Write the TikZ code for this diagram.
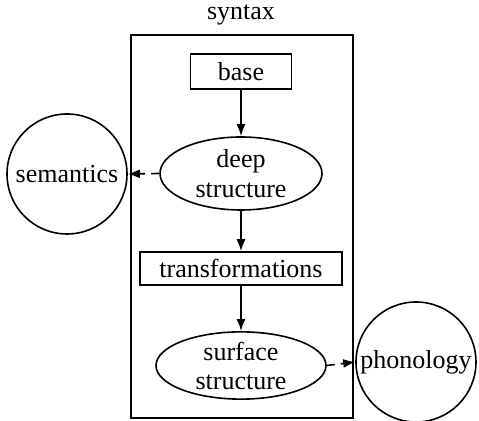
\documentclass[tikz,border=0pt]{standalone}
\usepackage{fontspec}
\setmainfont{Liberation Serif}
\usetikzlibrary{shapes.geometric,arrows.meta}
\begin{document}
\begin{tikzpicture}[x=0.5pt,y=-0.5pt,
  every node/.style={font=\fontsize{13}{14.5}\selectfont, inner sep=0pt},
  box/.style={draw, line width=0.8pt, rectangle},
  oval/.style={draw, line width=0.8pt, ellipse, align=center},
  circ/.style={draw, line width=0.8pt, circle},
  arr/.style={line width=0.8pt, -{Latex[length=6pt,width=4.5pt]}},
  darr/.style={arr, dash pattern=on 4pt off 3pt}]
\useasboundingbox (0,0) rectangle (479,421);
\node (syn) at (241,15) {syntax};
\node[draw, line width=0.8pt, minimum width=111pt, minimum height=191.5pt] (frame) at (242,226.5) {};
\node[box, minimum width=50.5pt, minimum height=17.5pt] (base) at (241,71.5) {base};
\node[oval, minimum width=81pt, minimum height=36.5pt] (deep) at (241,173.5) {deep\\[0.5pt]structure};
\node[box, minimum width=101pt, minimum height=16.5pt] (trans) at (241,268.5) {transformations};
\node[oval, minimum width=85pt, minimum height=32.5pt] (surf) at (241,365.5) {surface\\structure};
\node[circ, minimum size=60pt] (sem) at (67,174) {semantics};
\node[circ, minimum size=60pt] (phon) at (416,362) {phonology};
\draw[arr] (base) -- (deep);
\draw[arr] (deep) -- (trans);
\draw[arr] (trans) -- (surf);
\draw[darr] (deep.west) -- (sem.east);
\draw[darr] (surf.east) -- (phon.west);
\end{tikzpicture}
\end{document}
